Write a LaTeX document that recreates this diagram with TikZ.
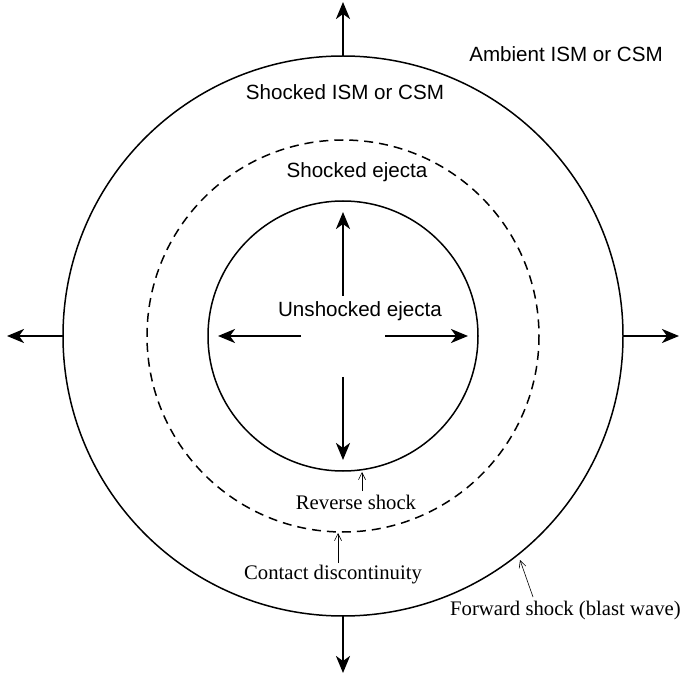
\documentclass[tikz,border=0pt]{standalone}
\usepackage{fontspec}
\setmainfont{Liberation Serif}
\setsansfont{Liberation Sans}
\usetikzlibrary{arrows.meta}
\begin{document}
\begin{tikzpicture}[x=1pt,y=-1pt,
  ring/.style={line width=1.5pt},
  bigarrow/.style={line width=2.5pt,-{Stealth[length=17pt,width=14pt,inset=5pt]}},
  thinarrow/.style={line width=0.6pt,-{Straight Barb[length=7pt,width=7pt]}},
  sanslabel/.style={font=\sffamily\fontsize{20.6}{23}\selectfont,inner sep=0pt},
  seriflabel/.style={font=\fontsize{20.7}{23}\selectfont,inner sep=0pt}]
\useasboundingbox (0,0) rectangle (681,679);
\coordinate (c) at (343,336);
% rings
\draw[ring] (c) circle[radius=280];
\draw[ring,dash pattern=on 9pt off 6pt] (c) circle[radius=196];
\draw[ring] (c) circle[radius=135];
% outer arrows
\coordinate (ot) at (343,56);  \coordinate (otE) at (343,2);
\coordinate (ol) at (63,336);  \coordinate (olE) at (7,336);
\coordinate (or) at (623,336); \coordinate (orE) at (679,336);
\coordinate (ob) at (343,616); \coordinate (obE) at (343,673);
\draw[bigarrow] (ot) -- (otE);
\draw[bigarrow] (ol) -- (olE);
\draw[bigarrow] (or) -- (orE);
\draw[bigarrow] (ob) -- (obE);
% inner arrows
\coordinate (it) at (343,296); \coordinate (itE) at (343,212);
\coordinate (il) at (301,336); \coordinate (ilE) at (218,336);
\coordinate (ir) at (385,336); \coordinate (irE) at (468,336);
\coordinate (ib) at (343,377); \coordinate (ibE) at (343,460);
\draw[bigarrow] (it) -- (itE);
\draw[bigarrow] (il) -- (ilE);
\draw[bigarrow] (ir) -- (irE);
\draw[bigarrow] (ib) -- (ibE);
% sans labels
\node[sanslabel] (amb) at (566,54) {Ambient ISM or CSM};
\node[sanslabel] (sism) at (345,92) {Shocked ISM or CSM};
\node[sanslabel] (sej) at (357,172) {Shocked ejecta};
\node[sanslabel] (uej) at (360,311) {Unshocked ejecta};
% serif labels with pointers
\node[seriflabel] (rs) at (356,502) {Reverse shock};
\node[seriflabel] (cd) at (333,575) {Contact discontinuity};
\node[seriflabel,anchor=west] (fs) at (450,611) {Forward shock (blast wave)};
\coordinate (rsT) at (362,472);
\coordinate (cdT) at (338,533);
\coordinate (fsT) at (520,560);
\draw[thinarrow] (362,491) -- (rsT);
\draw[thinarrow] (338,563) -- (cdT);
\draw[thinarrow] (533,597) -- (fsT);
\end{tikzpicture}
\end{document}
